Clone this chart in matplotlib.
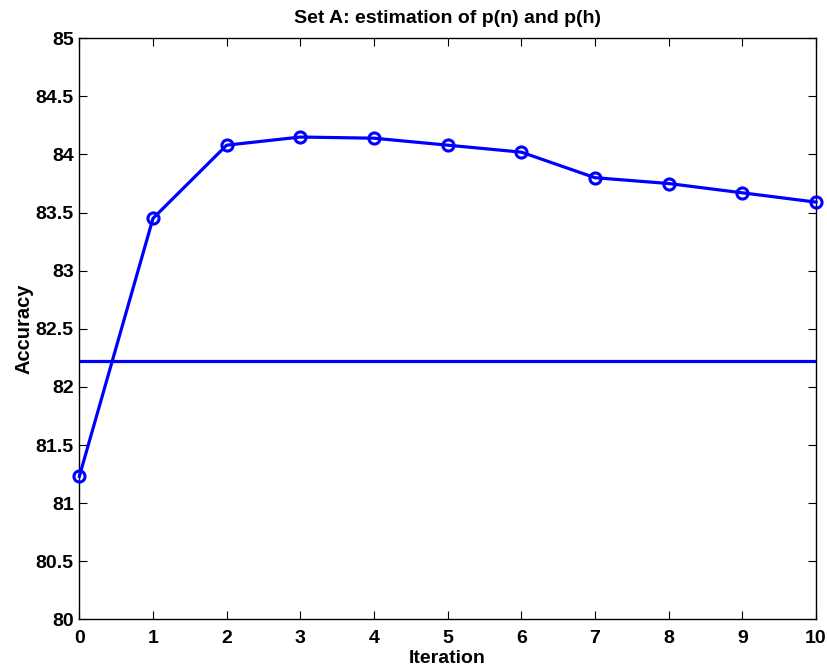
import numpy as np
import matplotlib
matplotlib.use("Agg")
import matplotlib.pyplot as plt

plt.rcParams['font.family'] = ['Liberation Sans', 'DejaVu Sans']
plt.rcParams['font.weight'] = 'bold'

# data
iterations = [0, 1, 2, 3, 4, 5, 6, 7, 8, 9, 10]
accuracy = [81.23, 83.45, 84.08, 84.15, 84.14, 84.08, 84.02, 83.80, 83.75, 83.67, 83.59]
baseline = 82.22

yticks = [80, 80.5, 81, 81.5, 82, 82.5, 83, 83.5, 84, 84.5, 85]
ytick_labels = ['80', '80.5', '81', '81.5', '82', '82.5', '83', '83.5', '84', '84.5', '85']

fig = plt.figure(figsize=(8.28, 6.71), dpi=100)
ax = fig.add_axes([0.0958, 0.077, 0.8897, 0.866])

ax.plot(iterations, accuracy, color='#0000ff', lw=2.3, marker='o', ms=8,
        mfc='none', mec='#0000ff', mew=2.2, clip_on=False, zorder=3)
ax.axhline(baseline, color='#0000ff', lw=2.3)

ax.set_xlim(0, 10)
ax.set_ylim(80, 85)
ax.set_xticks(iterations)
ax.set_yticks(yticks)
ax.set_yticklabels(ytick_labels)
ax.tick_params(direction='in', length=6, width=0.8, top=True, right=True,
               labelsize=14, pad=4)
ax.tick_params(axis='x', pad=8)
for lab in ax.get_xticklabels() + ax.get_yticklabels():
    lab.set_fontweight('bold')
for s in ax.spines.values():
    s.set_linewidth(1.0)

ax.set_xlabel('Iteration', fontsize=14, fontweight='bold', labelpad=2)
ax.set_ylabel('Accuracy', fontsize=14.5, fontweight='bold', labelpad=1.5)
ax.set_title('Set A: estimation of p(n) and p(h)', fontsize=14, fontweight='bold', pad=11)

fig.savefig('out.png', dpi=100)
